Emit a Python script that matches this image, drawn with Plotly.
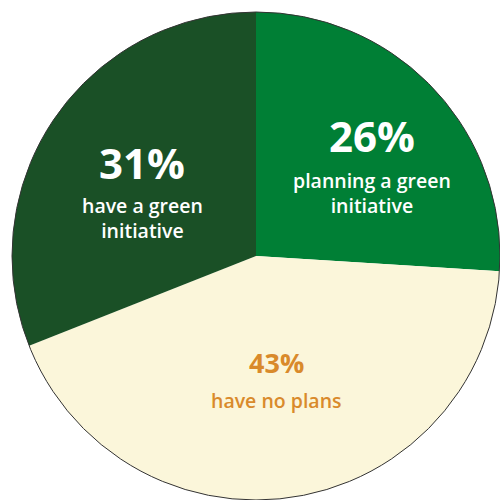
import plotly.graph_objects as go

labels = ["planning a green<br>initiative", "have no plans", "have a green<br>initiative"]
values = [26, 43, 31]
slice_colors = ["#007F35", "#FBF6DA", "#1A5026"]
text_colors = ["#FFFFFF", "#D98A2B", "#FFFFFF"]

dom_x = [0.024, 1.0]
dom_y = [0.0, 0.976]

fig = go.Figure(go.Pie(
    labels=labels,
    values=values,
    sort=False,
    direction="clockwise",
    rotation=0,
    textinfo="none",
    hoverinfo="label+percent",
    marker=dict(colors=slice_colors, line=dict(width=0)),
    domain=dict(x=dom_x, y=dom_y),
    showlegend=False,
))

# circular outline around the pie
fig.add_shape(type="circle", xref="paper", yref="paper",
              x0=dom_x[0], x1=dom_x[1], y0=dom_y[0], y1=dom_y[1],
              line=dict(color="#333333", width=1), layer="above")

# label positions (pixel coords from top-left)
pct_pos = [(372, 135), (276, 362), (142, 162)]
lab_pos = [(372, 193), (276, 400), (142, 218)]
pct_size = [42, 27, 42]

total = sum(values)
for i in range(len(values)):
    px, py = pct_pos[i]
    fig.add_annotation(x=px / 500, y=1 - py / 500, xref="paper", yref="paper",
                       text=f"{round(values[i] / total * 100)}%", showarrow=False,
                       xanchor="center", yanchor="middle",
                       font=dict(family="Open Sans", size=pct_size[i], color=text_colors[i], weight=700))
    lx, ly = lab_pos[i]
    fig.add_annotation(x=lx / 500, y=1 - ly / 500, xref="paper", yref="paper",
                       text=labels[i], showarrow=False,
                       xanchor="center", yanchor="middle",
                       font=dict(family="Open Sans", size=19.5, color=text_colors[i], weight=600))

fig.update_layout(width=500, height=500, margin=dict(l=0, r=0, t=0, b=0),
                  paper_bgcolor="white", plot_bgcolor="white")

fig.write_html("out.html")
